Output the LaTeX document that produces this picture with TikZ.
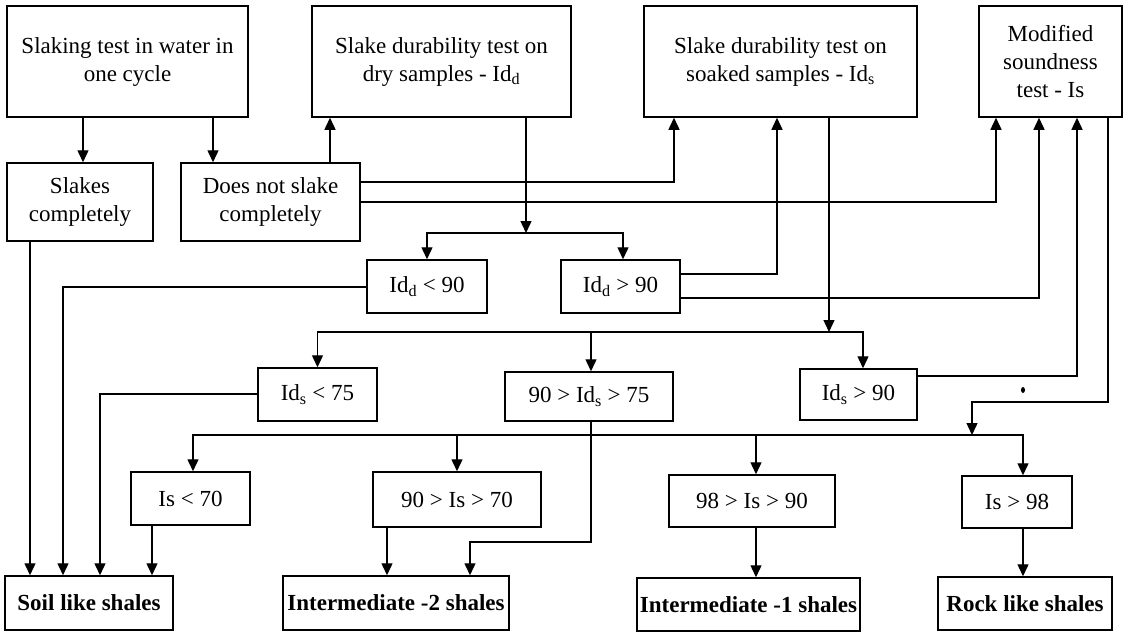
\documentclass[tikz,border=0pt]{standalone}
\usepackage{fontspec}
\setmainfont{Liberation Serif}
\usetikzlibrary{arrows.meta}
\tikzset{
  box/.style={draw,line width=1.5pt,inner sep=0pt,align=center,font=\fontsize{23}{28}\selectfont},
  endbox/.style={box,font=\fontsize{23}{28}\selectfont\bfseries},
  arr/.style={line width=1.4pt,-{Triangle[length=12pt,width=11pt]}},
  conn/.style={line width=1.4pt}
}
\begin{document}
\begin{tikzpicture}[x=1pt,y=-1pt]
\useasboundingbox (0,0) rectangle (1128,633);
% tests
\node[box,minimum width=241,minimum height=111] (slaking) at (127.5,61.5) {Slaking test in water in\\one cycle};
\node[box,minimum width=259,minimum height=111] (dry) at (441.5,61.5) {Slake durability test on\\dry samples - Id\textsubscript{d}};
\node[box,minimum width=273,minimum height=111] (soaked) at (780.5,61.5) {Slake durability test on\\soaked samples - Id\textsubscript{s}};
\node[box,minimum width=143,minimum height=111] (sound) at (1050.5,61.5) {Modified\\soundness\\test - Is};
% slaking result
\node[box,minimum width=146,minimum height=78] (slakes) at (80,202) {Slakes\\completely};
\node[box,minimum width=179,minimum height=78] (notslake) at (270.5,202) {Does not slake\\completely};
% Id_d
\node[box,minimum width=120,minimum height=53] (iddlo) at (427,286.5) {Id\textsubscript{d} < 90};
\node[box,minimum width=119,minimum height=53] (iddhi) at (620.5,286.5) {Id\textsubscript{d} > 90};
% Id_s
\node[box,minimum width=119,minimum height=53] (idslo) at (317.5,394.5) {Id\textsubscript{s} < 75};
\node[box,minimum width=168,minimum height=49] (idsmid) at (589,396.5) {90 > Id\textsubscript{s} > 75};
\node[box,minimum width=117,minimum height=51] (idshi) at (858.5,394.5) {Id\textsubscript{s} > 90};
% Is
\node[box,minimum width=119,minimum height=53] (islo) at (190.5,498.5) {Is < 70};
\node[box,minimum width=168,minimum height=55] (ismid) at (457,499.5) {90 > Is > 70};
\node[box,minimum width=166,minimum height=52] (ishi) at (752,501) {98 > Is > 90};
\node[box,minimum width=110,minimum height=52] (istop) at (1017,502) {Is > 98};
% classes
\node[endbox,minimum width=168,minimum height=54] (soil) at (89,603) {Soil like shales};
\node[endbox,minimum width=226,minimum height=54] (inter2) at (396,603) {Intermediate -2 shales};
\node[endbox,minimum width=223,minimum height=53] (inter1) at (748.5,604.5) {Intermediate -1 shales};
\node[endbox,minimum width=174,minimum height=53] (rock) at (1025,603.5) {Rock like shales};

\coordinate (jdry) at (526,233);
\coordinate (jsoak) at (829,332);
\coordinate (jsound) at (972,435);

\draw[arr] (slaking.south -| 83,0) -- (slakes.north -| 83,0);
\draw[arr] (slaking.south -| 213,0) -- (notslake.north -| 213,0);
\draw[arr] (notslake.north -| 330,0) -- (dry.south -| 330,0);
\draw[arr] (notslake.east |- 0,182) -| (soaked.south -| 674,0);
\draw[arr] (notslake.east |- 0,202) -| (sound.south -| 996,0);
\draw[arr] (slakes.south -| 30,0) -- (soil.north -| 30,0);

\draw[arr] (dry.south -| jdry) -- (jdry);
\draw[arr] (jdry) -| (iddlo.north);
\draw[arr] (jdry) -| (iddhi.north -| 623,0);
\draw[arr] (iddlo.west |- 0,287) -| (soil.north -| 63,0);
\draw[arr] (iddhi.east |- 0,274) -| (soaked.south -| 777,0);
\draw[arr] (iddhi.east |- 0,298) -| (sound.south -| 1039,0);

\draw[arr] (soaked.south -| jsoak) -- (jsoak);
\draw[arr] (jsoak) -| (idslo.north);
\draw[arr] (jsoak -| 591,0) -- (idsmid.north -| 591,0);
\draw[arr] (jsoak) -| (idshi.north -| 863,0);
\draw[arr] (idslo.west |- 0,394) -| (soil.north -| 100,0);
\draw[arr] (idshi.east |- 0,376) -| (sound.south -| 1077,0);
\draw[arr] (idsmid.south -| 591,0) -- (591,542) -| (inter2.north -| 470,0);

\draw[arr] (sound.south -| 1108,0) -- (1108,402) -| (jsound);
\draw[arr] (jsound) -| (islo.north -| 193,0);
\draw[arr] (jsound -| ismid.north) -- (ismid.north);
\draw[arr] (jsound -| 756,0) -- (ishi.north -| 756,0);
\draw[arr] (jsound) -| (istop.north -| 1023,0);
\fill (1023,390) ellipse (2 and 3);

\draw[arr] (islo.south -| 152,0) -- (soil.north -| 152,0);
\draw[arr] (ismid.south -| 387,0) -- (inter2.north -| 387,0);
\draw[arr] (ishi.south -| 756,0) -- (inter1.north -| 756,0);
\draw[arr] (istop.south -| 1023,0) -- (rock.north -| 1023,0);
\end{tikzpicture}
\end{document}
